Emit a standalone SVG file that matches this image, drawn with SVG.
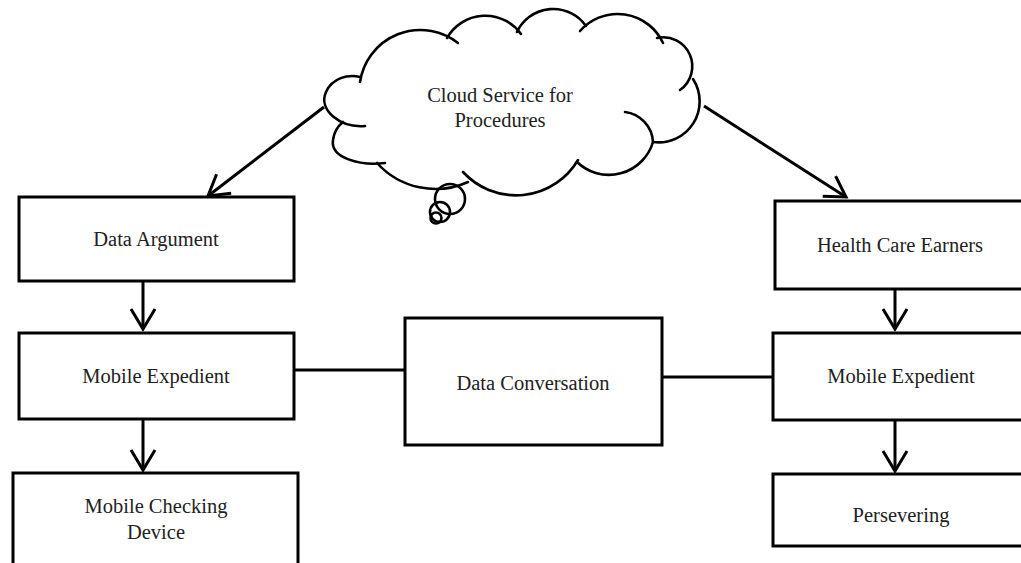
<svg xmlns="http://www.w3.org/2000/svg" width="1021" height="563" viewBox="0 0 1021 563">
  <style>
    .box { fill: #ffffff; stroke: #000000; stroke-width: 3; }
    .lbl { font-family: "Liberation Serif", "Times New Roman", serif; font-size: 20.5px; fill: #222222; text-anchor: middle; }
    .edge { fill: none; stroke: #000000; stroke-width: 3; }
    .cloud-line { fill: none; stroke: #000000; stroke-width: 2.6; stroke-linecap: round; }
  </style>
  <defs>
    <marker id="openArrow" markerUnits="userSpaceOnUse" markerWidth="30" markerHeight="30" refX="0" refY="0" viewBox="-25 -15 30 30" orient="auto" overflow="visible">
      <path d="M-20,-12 L0,0 L-20,12" fill="none" stroke="#000000" stroke-width="3" stroke-linejoin="miter"/>
    </marker>
  </defs>

  <rect width="1021" height="563" fill="#ffffff"/>

  <!-- connectors -->
  <g id="connectors">
    <line class="edge" x1="324" y1="107" x2="208" y2="196" stroke-width="2.6" marker-end="url(#openArrow)"/>
    <line class="edge" x1="704" y1="106" x2="846" y2="197" stroke-width="2.6" marker-end="url(#openArrow)"/>
    <line class="edge" x1="143" y1="281" x2="143" y2="329" marker-end="url(#openArrow)"/>
    <line class="edge" x1="143" y1="419" x2="143" y2="470" marker-end="url(#openArrow)"/>
    <line class="edge" x1="895" y1="289" x2="895" y2="329" marker-end="url(#openArrow)"/>
    <line class="edge" x1="895" y1="420" x2="895" y2="471" marker-end="url(#openArrow)"/>
    <line class="edge" x1="294" y1="370" x2="405" y2="370"/>
    <line class="edge" x1="662" y1="377" x2="773" y2="377"/>
  </g>

  <!-- cloud node -->
  <g id="cloud">
    <path fill="#ffffff" stroke="none" d="M360,78 A61,61 0 0 1 451,38 A44,44 0 0 1 519,33 A40,40 0 0 1 582,29 A50,50 0 0 1 661,40 A29,29 0 0 1 692,80 A41,41 0 0 1 653,142 A46,46 0 0 1 577,162 A72,72 0 0 1 467,181 A79,79 0 0 1 382,163 C360,166 330,158 333,140 C334,132 338,126 343,122 C330,115 320,105 326,92 C332,78 348,74 360,78 Z"/>
    <path class="cloud-line" d="M360,82 A61,61 0 0 1 458,43"/>
    <path class="cloud-line" d="M447,38 A44,44 0 0 1 521,34"/>
    <path class="cloud-line" d="M517,32 A40,40 0 0 1 586,26"/>
    <path class="cloud-line" d="M580,31 A50,50 0 0 1 663,43"/>
    <path class="cloud-line" d="M657,38 A29,29 0 0 1 680,90"/>
    <path class="cloud-line" d="M693,79 A41,41 0 0 1 653,142"/>
    <path class="cloud-line" d="M625,112 A32,32 0 0 1 653,142 A46,46 0 0 1 577,162"/>
    <path class="cloud-line" d="M578,160 A72,72 0 0 1 463,172"/>
    <path class="cloud-line" d="M468,182 A79,79 0 0 1 377,163"/>
    <path class="cloud-line" d="M385,163 C360,166 330,158 333,140 C334,132 338,126 343,122"/>
    <path class="cloud-line" d="M365,126 C340,128 318,110 326,92 C332,78 348,74 360,77"/>
    <circle class="cloud-line" cx="450" cy="199" r="15"/>
    <circle class="cloud-line" cx="440" cy="212" r="10"/>
    <circle class="cloud-line" cx="436" cy="218" r="5.5"/>
    <text class="lbl" x="500" y="102">Cloud Service for</text>
    <text class="lbl" x="500" y="127">Procedures</text>
  </g>

  <g id="data-argument">
    <rect class="box" x="19" y="197" width="275" height="84"/>
    <text class="lbl" x="156" y="246">Data Argument</text>
  </g>

  <g id="mobile-expedient-left">
    <rect class="box" x="19" y="333" width="275" height="86"/>
    <text class="lbl" x="156" y="383">Mobile Expedient</text>
  </g>

  <g id="mobile-checking-device">
    <rect class="box" x="13" y="473" width="285" height="110"/>
    <text class="lbl" x="156" y="513">Mobile Checking</text>
    <text class="lbl" x="156" y="539">Device</text>
  </g>

  <g id="data-conversation">
    <rect class="box" x="405" y="318" width="257" height="127"/>
    <text class="lbl" x="533" y="390">Data Conversation</text>
  </g>

  <g id="health-care-earners">
    <rect class="box" x="775" y="201" width="251" height="88"/>
    <text class="lbl" x="900" y="252">Health Care Earners</text>
  </g>

  <g id="mobile-expedient-right">
    <rect class="box" x="773" y="333" width="253" height="87"/>
    <text class="lbl" x="901" y="383">Mobile Expedient</text>
  </g>

  <g id="persevering">
    <rect class="box" x="773" y="474" width="253" height="72"/>
    <text class="lbl" x="901" y="522">Persevering</text>
  </g>
</svg>
